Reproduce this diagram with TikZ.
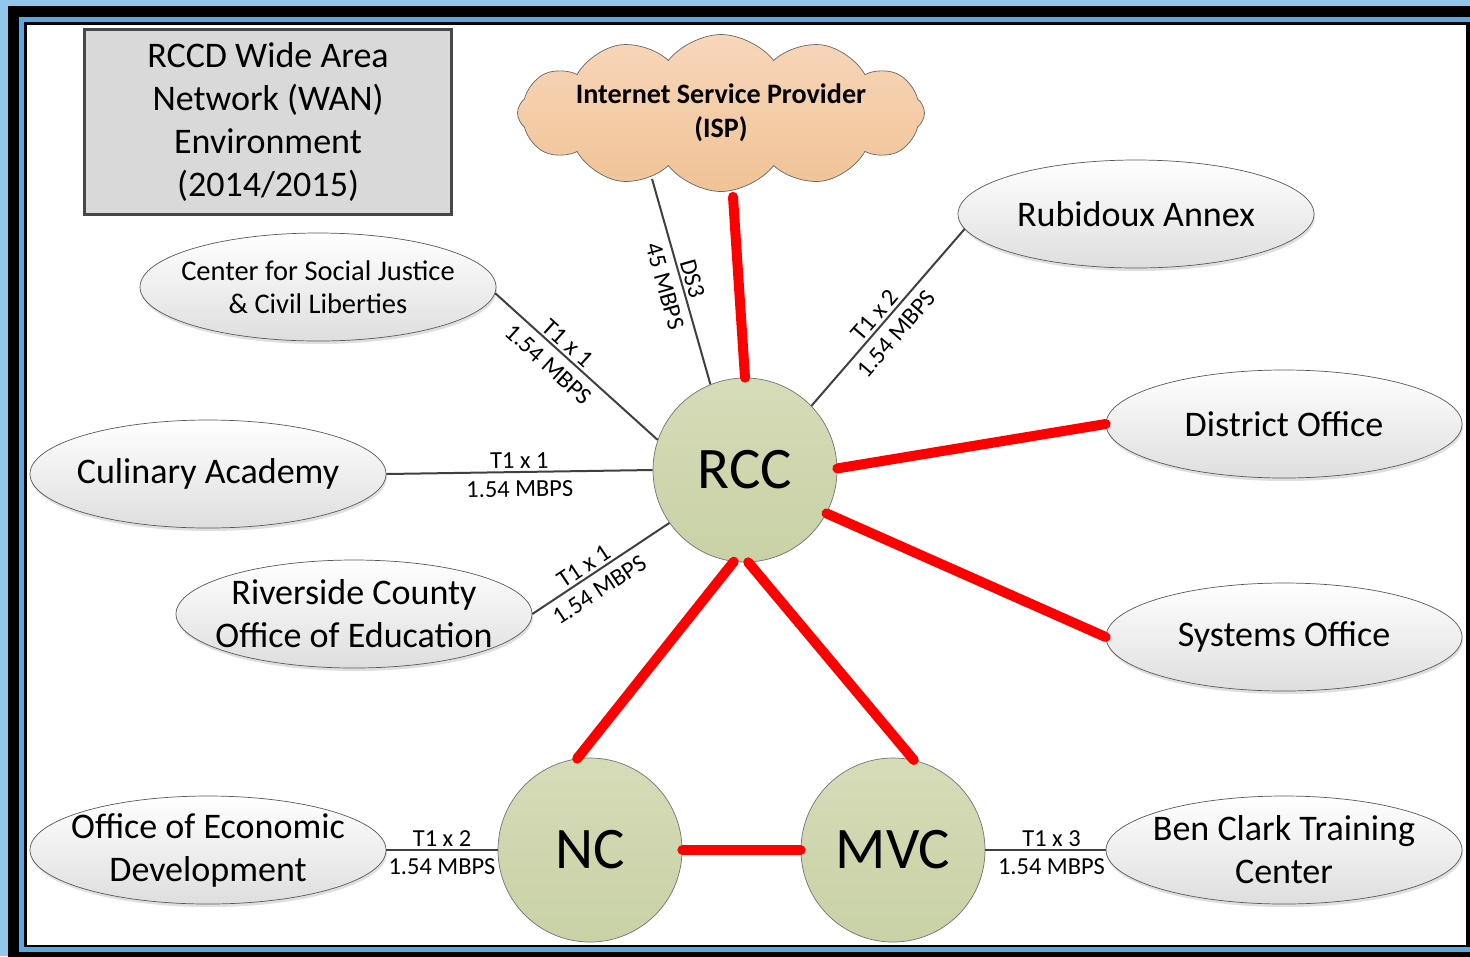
\documentclass[tikz,border=0pt]{standalone}
\usepackage{fontspec}
\setmainfont{Carlito}
\usetikzlibrary{positioning, shapes.geometric, shapes.symbols, shadows}

\definecolor{frameblue}{HTML}{92C6EC}
\definecolor{bandblue}{HTML}{5AAAE2}
\definecolor{campustop}{HTML}{D5DCB8}
\definecolor{campusbottom}{HTML}{C9D1A6}
\definecolor{isptop}{HTML}{F8D6BA}
\definecolor{ispbottom}{HTML}{F0C396}
\definecolor{linkgray}{HTML}{404040}

\begin{document}
\begin{tikzpicture}[x=0.2mm, y=-0.2mm,
    every node/.style={font=\fontsize{20.5}{24.5}\selectfont},
    site/.style={ellipse, draw=black!65, top color=white, bottom color=black!13, minimum width=71.2mm, minimum height=21.6mm, inner xsep=-60pt, inner ysep=-8pt, align=center, drop shadow={shadow xshift=0.2mm, shadow yshift=-0.6mm, opacity=0.25}},
    campus/.style={circle, draw=black!55, top color=campustop, bottom color=campusbottom, minimum size=36.8mm, inner sep=0pt, font=\fontsize{33.5}{40}\selectfont},
    titlebox/.style={draw=black!72, line width=0.6mm, fill=black!15, minimum width=73.4mm, minimum height=37mm, align=center},
    ispcloud/.style={cloud, cloud puffs=12, cloud puff arc=105, cloud ignores aspect, draw=black!60, top color=isptop, bottom color=ispbottom, minimum width=80.4mm, minimum height=31.4mm, inner sep=0pt, align=center, font=\bfseries\fontsize{16}{19.3}\selectfont},
    tline/.style={draw=linkgray, line width=0.4mm},
    fiber/.style={draw=red, line width=2mm, line cap=round},
    rate/.style={font=\fontsize{13.9}{16}\selectfont, inner sep=1.5pt, sloped},
    rateup/.style={rate, above=0pt},
    ratedown/.style={rate, below=3pt}
]

% Frame
\useasboundingbox (0,0) rectangle (1470,956);
\fill[frameblue] (0,0) rectangle (1470,956);
\fill[black] (8,6) rectangle (1490,970);
\fill[bandblue] (19,17) rectangle (1490,952);
\fill[black] (24,22) rectangle (1470,947);
\fill[white] (27,25) rectangle (1466,945);

% Title
\node[titlebox] (title) at (268,122) {RCCD Wide Area\\Network (WAN)\\Environment\\(2014/2015)};

% ISP and campuses
\node[ispcloud] (isp) at (721,113) {Internet Service Provider\\(ISP)};
\node[campus] (rcc) at (745,470) {RCC};
\node[campus] (nc) at (590,850) {NC};
\node[campus] (mvc) at (893,850) {MVC};

% Sites
\node[site] (rubidoux) at (1136,214) {Rubidoux Annex};
\node[site, font=\fontsize{16.2}{18.8}\selectfont] (csj) at (318,287) {Center for Social Justice\\\& Civil Liberties};
\node[site] (district) at (1284,424) {District Office};
\node[site] (culinary) at (208,474) {Culinary Academy};
\node[site] (rcoe) at (354,614) {Riverside County\\Office of Education};
\node[site] (systems) at (1284,637) {Systems Office};
\node[site] (oed) at (208,850) {Office of Economic\\Development};
\node[site] (benclark) at (1284,850) {Ben Clark Training\\Center};

% T1 / DS3 links
\draw[tline] ([xshift=-13.8mm, yshift=2.6mm]isp.south) -- node[rateup] {DS3} node[ratedown] {45 MBPS} (rcc.112);
\draw[tline] (rcc.44) -- node[rateup, pos=0.47] {T1 x 2} node[ratedown, pos=0.47] {1.54 MBPS} (rubidoux.185);
\draw[tline] (csj.-2) -- node[rateup, pos=0.4] {T1 x 1} node[ratedown, pos=0.4] {1.54 MBPS} (rcc.161);
\draw[tline] (culinary.east) -- node[rateup] {T1 x 1} node[ratedown] {1.54 MBPS} (rcc.west);
\draw[tline] (rcoe.east) -- node[rateup, pos=0.42] {T1 x 1} node[ratedown, pos=0.42] {1.54 MBPS} (rcc.215);
\draw[tline] (oed.east) -- node[rateup] {T1 x 2} node[ratedown] {1.54 MBPS} (nc.west);
\draw[tline] (mvc.east) -- node[rateup, pos=0.55] {T1 x 3} node[ratedown, pos=0.55] {1.54 MBPS} (benclark.west);

% Fiber links
\draw[fiber] ([xshift=2.4mm, yshift=-1mm]isp.south) -- (rcc.north);
\draw[fiber] (rcc.1) -- (district.west);
\draw[fiber] (rcc.-28) -- (systems.west);
\draw[fiber] (rcc.-97) -- (nc.98);
\draw[fiber] (rcc.-88) -- (mvc.77);
\draw[fiber] (nc.east) -- (mvc.west);

\end{tikzpicture}
\end{document}
